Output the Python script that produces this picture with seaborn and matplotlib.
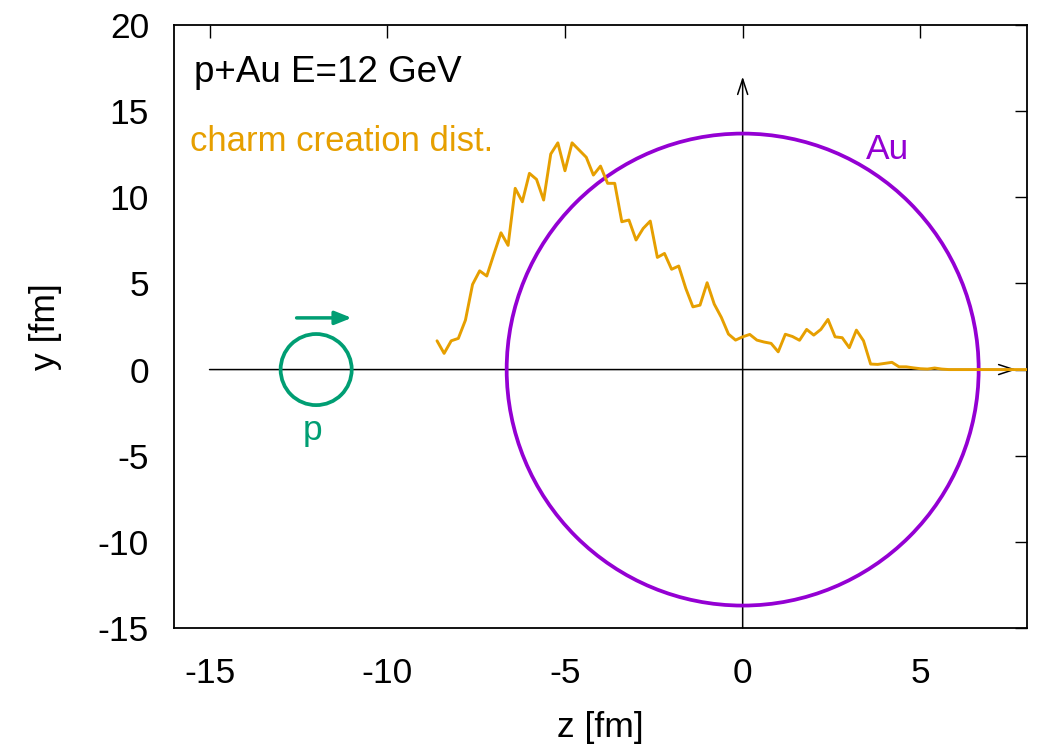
import matplotlib
matplotlib.use("Agg")
import matplotlib.pyplot as plt
from matplotlib.patches import Ellipse
import seaborn as sns

# charm creation distribution along z (bin centres, fm) and its height (scaled)
z_bins = [-8.6, -8.4, -8.2, -8.0, -7.8, -7.6, -7.4, -7.2, -7.0, -6.8,
          -6.6, -6.4, -6.2, -6.0, -5.8, -5.6, -5.4, -5.2, -5.0, -4.8,
          -4.6, -4.4, -4.2, -4.0, -3.8, -3.6, -3.4, -3.2, -3.0, -2.8,
          -2.6, -2.4, -2.2, -2.0, -1.8, -1.6, -1.4, -1.2, -1.0, -0.8,
          -0.6, -0.4, -0.2, 0.0, 0.2, 0.4, 0.6, 0.8, 1.0, 1.2,
          1.4, 1.6, 1.8, 2.0, 2.2, 2.4, 2.6, 2.8, 3.0, 3.2,
          3.4, 3.6, 3.8, 4.0, 4.2, 4.4, 4.6, 4.8, 5.0, 5.2,
          5.4, 5.6, 5.8, 6.0, 6.2, 6.4, 6.6, 6.8, 7.0, 7.2,
          7.4, 7.6, 7.8, 8.0]
charm_dist = [1.67, 0.94, 1.67, 1.81, 2.87, 4.94, 5.73, 5.43, 6.70, 7.94,
              7.21, 10.52, 9.74, 11.39, 11.04, 9.84, 12.51, 13.16, 11.54, 13.16,
              12.74, 12.32, 11.29, 11.81, 10.81, 10.81, 8.58, 8.68, 7.52, 8.19,
              8.62, 6.51, 6.74, 5.82, 6.01, 4.71, 3.64, 3.74, 5.04, 3.80,
              3.03, 2.06, 1.71, 1.90, 2.04, 1.71, 1.60, 1.52, 1.03, 2.05,
              1.92, 1.70, 2.33, 2.00, 2.33, 2.91, 1.90, 1.85, 1.27, 2.29,
              1.67, 0.32, 0.30, 0.36, 0.42, 0.16, 0.16, 0.10, 0.05, 0.03,
              0.09, 0.03, 0.0, 0.0, 0.0, 0.0, 0.0, 0.0, 0.0, 0.0,
              0.0, 0.0, 0.0, 0.0]

# nuclei (centre z, radius in fm)
au_center, au_radius = 0.0, 6.64
p_center, p_radius = -12.0, 1.0

x_ticks = [-15, -10, -5, 0, 5]
y_ticks = [-15, -10, -5, 0, 5, 10, 15, 20]

ORANGE = "#E69F00"
GREEN = "#009E73"
PURPLE = "#9400D3"

sns.set_theme(style="white")
plt.rcParams["font.family"] = ["Liberation Sans", "DejaVu Sans"]
plt.rcParams["axes.unicode_minus"] = False
FS = 25.5

fig = plt.figure(figsize=(10.39, 7.51), dpi=100)
ax = fig.add_axes([174 / 1039, 1 - 628 / 751, (1027 - 174) / 1039, (628 - 25) / 751])
ax.set_xlim(-16, 8)
ax.set_ylim(-15, 20)

# pixels per data unit, to draw the nuclei as round circles on screen
px_x = (1027 - 174) / 24
px_y = (628 - 25) / 35
aspect = px_x / px_y

# axes arrows
for tip, tail in [((7.7, 0), (-15, 0)), ((0, 17), (0, -15))]:
    ax.annotate("", xy=tip, xytext=tail,
                arrowprops=dict(arrowstyle="->,head_length=0.55,head_width=0.18",
                                lw=1.1, color="black", shrinkA=0, shrinkB=0,
                                mutation_scale=20))

# nuclei
ax.add_patch(Ellipse((au_center, 0), 2 * au_radius, 2 * au_radius * aspect,
                     fill=False, ec=PURPLE, lw=2.7, zorder=3))
ax.add_patch(Ellipse((p_center, 0), 2 * p_radius, 2 * p_radius * aspect,
                     fill=False, ec=GREEN, lw=2.7, zorder=3))
ax.annotate("", xy=(-11.0, 3.0), xytext=(-12.55, 3.0),
            arrowprops=dict(arrowstyle="-|>,head_length=0.5,head_width=0.2",
                            lw=2.5, color=GREEN, shrinkA=0, shrinkB=0,
                            mutation_scale=20))

sns.lineplot(x=z_bins, y=charm_dist, color=ORANGE, lw=2.1, ax=ax, zorder=4)

ax.text(-15.45, 16.7, "p+Au E=12 GeV", fontsize=26.5, color="black", va="baseline")
ax.text(-15.55, 12.7, "charm creation dist.", fontsize=25, color=ORANGE, va="baseline")
ax.text(3.48, 12.2, "Au", fontsize=FS, color=PURPLE, va="baseline")
ax.text(-12.1, -4.1, "p", fontsize=FS, color=GREEN, va="baseline", ha="center")

ax.set_xticks(x_ticks)
ax.set_yticks(y_ticks)
ax.tick_params(direction="in", top=True, right=True, length=9, width=1,
               labelsize=FS, colors="black")
ax.tick_params(axis="y", pad=18)
ax.tick_params(axis="x", pad=21)
for s in ax.spines.values():
    s.set_color("black")
    s.set_linewidth(1.3)

ax.set_xlabel("z [fm]", fontsize=FS, color="black", labelpad=15)
ax.set_ylabel("y [fm]", fontsize=FS, color="black", labelpad=26)

fig.savefig("out.png", dpi=100)
